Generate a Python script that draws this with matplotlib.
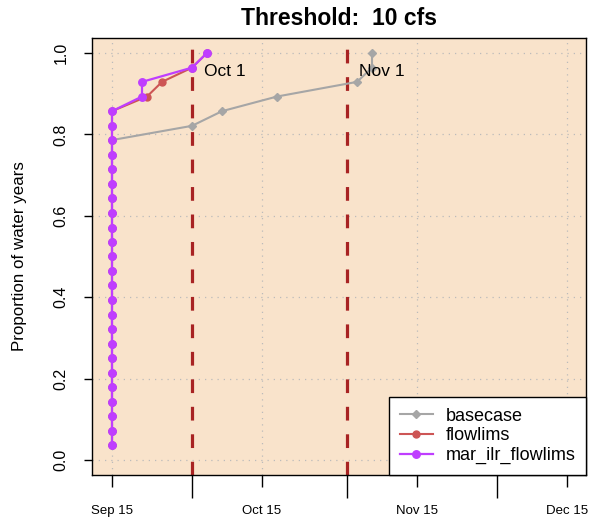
import numpy as np
import matplotlib
matplotlib.use("Agg")
import matplotlib.pyplot as plt

plt.rcParams['font.family'] = ['Liberation Sans', 'DejaVu Sans']

# days after Sep 15 when each water year falls below threshold (sorted)
base_days = [0, 0, 0, 0, 0, 0, 0, 0, 0, 0, 0, 0, 0, 0, 0, 0, 0, 0, 0, 0, 0, 0,
             16, 22, 33, 49, 52, 52]
flow_days = [0, 0, 0, 0, 0, 0, 0, 0, 0, 0, 0, 0, 0, 0, 0, 0, 0, 0, 0, 0, 0, 0,
             0, 0, 7, 10, 16, 19]
mar_days = [0, 0, 0, 0, 0, 0, 0, 0, 0, 0, 0, 0, 0, 0, 0, 0, 0, 0, 0, 0, 0, 0,
            0, 0, 6, 6, 16, 19]
# proportion of water years (cumulative)
prop = [0.036, 0.071, 0.107, 0.143, 0.179, 0.214, 0.250, 0.286, 0.321, 0.357,
        0.393, 0.429, 0.464, 0.500, 0.536, 0.571, 0.607, 0.643, 0.679, 0.714,
        0.750, 0.786, 0.821, 0.857, 0.893, 0.929, 0.964, 1.000]

lab_ticks = [0, 30, 61, 91]
lab_names = ['Sep 15', 'Oct 15', 'Nov 15', 'Dec 15']
month_ticks = [16, 47, 77]
ref_days = [16, 47]
ref_names = ['Oct 1', 'Nov 1']
y_ticks = [0.0, 0.2, 0.4, 0.6, 0.8, 1.0]

fig = plt.figure(figsize=(5.92, 5.27), dpi=100)
ax = fig.add_axes([0.1554, 0.0987, 0.8345, 0.8301])
ax.set_facecolor('#F9E3CB')
ax.set_xlim(-4.0, 94.8)
ax.set_ylim(-0.037, 1.038)

# grid
for d in lab_ticks:
    ax.axvline(d, color='#BBBBBB', lw=0.9, ls=(0, (1, 4)), zorder=1)
for y in y_ticks:
    ax.axhline(y, color='#BBBBBB', lw=0.9, ls=(0, (1, 4)), zorder=1)

# reference dates
for d, nm in zip(ref_days, ref_names):
    ax.axvline(d, color='#A82323', lw=2.3, ls=(0, (4.3, 4.3)), zorder=2)
    ax.text(d + 2.3, 0.955, nm, fontsize=12.5, ha='left', va='center', zorder=5)

ax.plot(base_days, prop, color='#A6A6A6', lw=1.5, marker='D', ms=4,
        label='basecase', zorder=3)
ax.plot(flow_days, prop, color='#CD5555', lw=1.5, marker='o', ms=5,
        label='flowlims', zorder=3)
ax.plot(mar_days, prop, color='#BF3EFF', lw=1.6, marker='o', ms=5.4,
        label='mar_ilr_flowlims', zorder=4)

ax.set_xticks(lab_ticks)
ax.set_xticklabels(lab_names, fontsize=9.5)
ax.set_xticks(month_ticks, minor=True)
ax.tick_params(axis='x', which='major', length=8.6, width=1, pad=13)
ax.tick_params(axis='x', which='minor', length=16.5, width=1)
ax.set_yticks(y_ticks)
ax.set_yticklabels(['0.0', '0.2', '0.4', '0.6', '0.8', '1.0'], rotation=90,
                   va='center', fontsize=11.5)
ax.tick_params(axis='y', length=5.8, width=1, pad=11)
for s in ax.spines.values():
    s.set_color('black')
    s.set_linewidth(1.0)

ax.set_ylabel('Proportion of water years', fontsize=12.2, labelpad=19)
ax.set_title('Threshold:  10 cfs', fontsize=16.5, fontweight='bold', pad=9)

leg = ax.legend(loc='lower right', borderaxespad=0, fancybox=False,
                framealpha=1, edgecolor='black', fontsize=13,
                handlelength=1.8, handletextpad=0.7, labelspacing=0.15,
                borderpad=0.6)
leg.get_frame().set_linewidth(1.0)
leg.set_zorder(6)

fig.savefig('out.png', dpi=100)
